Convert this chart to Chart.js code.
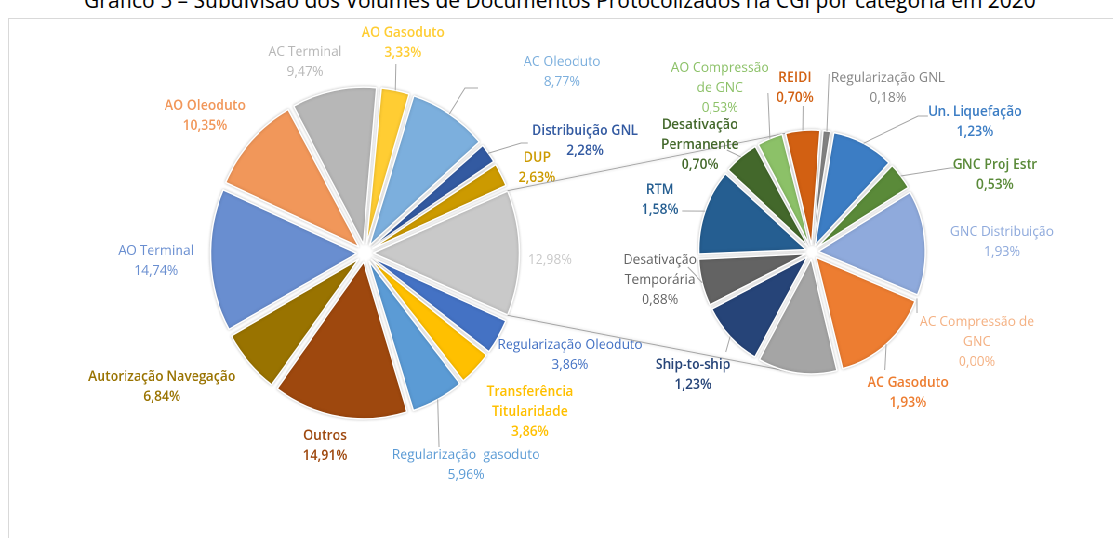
<!DOCTYPE html>
<html>
<head>
<meta charset="utf-8">
<script src="https://cdn.jsdelivr.net/npm/chart.js@4.4.0/dist/chart.umd.min.js"></script>
<style>
  html, body { margin: 0; padding: 0; background: #fff; width: 1113px; height: 538px; overflow: hidden; }
  #title { position: absolute; left: 0; top: -10px; width: 1120px; text-align: center; white-space: nowrap;
           font: 21px/21px 'Open Sans', sans-serif; color: #000; }
  #frame { position: absolute; left: 8px; top: 18px; width: 1200px; height: 600px; border: 1px solid #d9d9d9; }
  #stage { position: absolute; left: 0; top: 0; height: 538px; transform-origin: 0 0; }
  #stage canvas { position: absolute; left: 0; top: 0; }
</style>
</head>
<body>
<div id="title">Gráfico 5 – Subdivisão dos Volumes de Documentos Protocolizados na CGI por categoria em 2020</div>
<div id="frame"></div>
<div id="stage">
  <canvas id="mainPie"></canvas>
  <canvas id="detailPie"></canvas>
</div>
<script>
// the original picture is a bit narrower than tall, so the drawing is squeezed horizontally
const SQUEEZE = 0.93;
const W = Math.round(1113 / SQUEEZE);
const H = 538;
const LINE = 20;

// main pie, clockwise starting with the slice that is broken out
const mainCategories = ['', 'Regularização Oleoduto', 'Transferência\nTitularidade', 'Regularização  gasoduto', 'Outros',
  'Autorização Navegação', 'AO Terminal', 'AO Oleoduto', 'AC Terminal', 'AO Gasoduto', 'AC Oleoduto', 'Distribuição GNL', 'DUP'];
const mainValues = [12.98, 3.86, 3.86, 5.96, 14.91, 6.84, 14.74, 10.35, 9.47, 3.33, 8.77, 2.28, 2.63];
const mainColors = ['#c9c9c9', '#4472c4', '#ffc000', '#5b9bd5', '#9e480e', '#997300', '#698ed0', '#f1975a',
  '#b7b7b7', '#ffcd33', '#7cafdd', '#335aa1', '#cc9a00'];

// secondary pie (breakdown of the 12,98%), clockwise from the top
const detailCategories = ['Regularização GNL', 'Un. Liquefação', 'GNC Proj Estr', 'GNC Distribuição', 'AC Compressão de\nGNC',
  'AC Gasoduto', '', 'Ship-to-ship', 'Desativação\nTemporária', 'RTM', 'Desativação\nPermanente', 'AO Compressão\nde GNC', 'REIDI'];
const detailValues = [0.18, 1.23, 0.53, 1.93, 0.00, 1.93, 1.56, 1.23, 0.88, 1.58, 0.70, 0.53, 0.70];
const detailColors = ['#848484', '#3c7dc4', '#5a8a39', '#8faadc', '#f4b183', '#ed7d31', '#a5a5a5', '#264478',
  '#636363', '#255e91', '#43682b', '#8cc168', '#d26012'];

// label placement in page pixels: first line centre, weight, optional leader line points
const mainLabelLayout = [
  { at: [550, 260] },
  { at: [570, 345] },
  { at: [530, 392], bold: true },
  { at: [466, 455], leader: [[439, 447]] },
  { at: [325, 436], bold: true },
  { at: [162, 377], bold: true },
  { at: [156, 251] },
  { at: [205, 106], bold: true },
  { at: [305, 52] },
  { at: [403, 33], bold: true, leader: [[396, 64]] },
  { at: [562, 62], leader: [[465, 88], [478, 88]] },
  { at: [585, 131], bold: true, leader: [[521, 143], [528, 143]] },
  { at: [537, 158], bold: true },
];
const detailLabelLayout = [
  { at: [888, 78], leader: [[829, 74]] },
  { at: [975, 112], bold: true, leader: [[918, 116], [928, 116]] },
  { at: [995, 165], bold: true, leader: [[950, 168], [955, 168]] },
  { at: [1002, 232] },
  { at: [977, 322], leader: [[917, 313]] },
  { at: [908, 383], bold: true, leader: [[885, 370]] },
  null,
  { at: [693, 365], bold: true, leader: [[726, 352]] },
  { at: [660, 260], leader: [[688, 267]] },
  { at: [660, 190], bold: true, leader: [[682, 211]] },
  { at: [700, 125], bold: true, leader: [[727, 150]] },
  { at: [720, 68], leader: [[768, 93]] },
  { at: [795, 78], bold: true, leader: [[803, 106]] },
];

document.getElementById('stage').style.width = W + 'px';
document.getElementById('stage').style.transform = 'scaleX(' + SQUEEZE + ')';

const fmtPct = (v) => v.toFixed(2).replace('.', ',') + '%';

function padAround(cx, cy, half) {
  return { left: cx / SQUEEZE - half, right: W - cx / SQUEEZE - half, top: cy - half, bottom: H - cy - half };
}

// chart.js grows small exploded slices; bring them back to the common radius and add a soft shadow
const explodePlugin = {
  id: 'explodeFix',
  beforeDatasetsDraw(chart) {
    const meta = chart.getDatasetMeta(0);
    const base = meta.controller.outerRadius;
    meta.data.forEach((arc) => {
      const c = arc.endAngle - arc.startAngle;
      const off = (arc.options.offset || 0) / 4;
      arc.outerRadius = base - off * (1 - Math.sin(Math.min(Math.PI, c)));
    });
    chart.ctx.save();
    chart.ctx.shadowColor = 'rgba(0, 0, 0, 0.22)';
    chart.ctx.shadowBlur = 6;
  },
  afterDatasetsDraw(chart) {
    chart.ctx.restore();
  },
};

function labelPlugin(names, values, colors, layout) {
  return {
    id: 'pieLabels',
    afterDraw(chart) {
      const ctx = chart.ctx;
      const meta = chart.getDatasetMeta(0);
      ctx.save();
      meta.data.forEach((arc, i) => {
        const lay = layout[i];
        if (!lay) return;
        if (lay.leader) {
          const mid = (arc.startAngle + arc.endAngle) / 2;
          const r = meta.controller.outerRadius + (arc.options.offset || 0) / 4;
          ctx.beginPath();
          ctx.moveTo(arc.x + Math.cos(mid) * r, arc.y + Math.sin(mid) * r);
          lay.leader.forEach(([px, py]) => ctx.lineTo(px / SQUEEZE, py));
          ctx.strokeStyle = '#a6a6a6';
          ctx.lineWidth = 1;
          ctx.stroke();
        }
        const lines = names[i] ? names[i].split('\n') : [];
        lines.push(fmtPct(values[i]));
        ctx.font = (lay.bold ? '600 ' : '500 ') + '14px "Open Sans"';
        ctx.fillStyle = colors[i];
        ctx.textAlign = 'center';
        ctx.textBaseline = 'middle';
        lines.forEach((t, k) => ctx.fillText(t, lay.at[0] / SQUEEZE, lay.at[1] + k * LINE));
      });
      ctx.restore();
    },
  };
}

function pieConfig(names, values, colors, opts, plugins) {
  return {
    type: 'pie',
    data: {
      labels: names,
      datasets: [{
        data: values,
        backgroundColor: colors,
        borderColor: '#ffffff',
        borderWidth: 1.5,
        offset: opts.offset,
      }],
    },
    options: {
      responsive: false,
      animation: false,
      devicePixelRatio: 2,
      events: [],
      radius: opts.radius,
      rotation: opts.rotation,
      layout: { padding: opts.padding },
      plugins: { legend: { display: false }, tooltip: { enabled: false }, title: { display: false } },
    },
    plugins: [explodePlugin].concat(plugins),
  };
}

const mainTotal = mainValues.reduce((a, b) => a + b, 0);

const mainCanvas = document.getElementById('mainPie');
mainCanvas.width = W;
mainCanvas.height = H;
const mainChart = new Chart(mainCanvas, pieConfig(mainCategories, mainValues, mainColors, {
  offset: 36,
  radius: 157,
  rotation: 90 - (mainValues[0] / mainTotal) * 180,
  padding: padAround(365, 253, 175),
}, [labelPlugin(mainCategories, mainValues, mainColors, mainLabelLayout)]));

// lines joining the broken-out slice to the secondary pie (tangents)
const seriesLinesPlugin = {
  id: 'seriesLines',
  beforeDatasetsDraw(chart) {
    const src = mainChart.getDatasetMeta(0).data[0];
    const srcR = mainChart.getDatasetMeta(0).controller.outerRadius;
    const srcOff = (src.options.offset || 0) / 4;
    const srcMid = (src.startAngle + src.endAngle) / 2;
    const meta = chart.getDatasetMeta(0);
    const dst = meta.data[0];
    const rt = meta.controller.outerRadius + (dst.options.offset || 0) / 4;
    const ctx = chart.ctx;
    ctx.save();
    ctx.strokeStyle = '#a6a6a6';
    ctx.lineWidth = 1;
    [[src.startAngle, -1], [src.endAngle, 1]].forEach(([a, side]) => {
      const px = src.x + Math.cos(a) * srcR + Math.cos(srcMid) * srcOff;
      const py = src.y + Math.sin(a) * srcR + Math.sin(srcMid) * srcOff;
      const dx = px - dst.x;
      const dy = py - dst.y;
      const d = Math.hypot(dx, dy);
      const theta = Math.atan2(dy, dx);
      const beta = Math.acos(rt / d);
      const t = theta - side * beta;
      ctx.beginPath();
      ctx.moveTo(px, py);
      ctx.lineTo(dst.x + Math.cos(t) * rt, dst.y + Math.sin(t) * rt);
      ctx.stroke();
    });
    ctx.restore();
  },
};

const detailCanvas = document.getElementById('detailPie');
detailCanvas.width = W;
detailCanvas.height = H;
new Chart(detailCanvas, pieConfig(detailCategories, detailValues, detailColors, {
  offset: 28,
  radius: 115,
  rotation: 5,
  padding: padAround(812, 252, 130),
}, [seriesLinesPlugin, labelPlugin(detailCategories, detailValues, detailColors, detailLabelLayout)]));
</script>
</body>
</html>
